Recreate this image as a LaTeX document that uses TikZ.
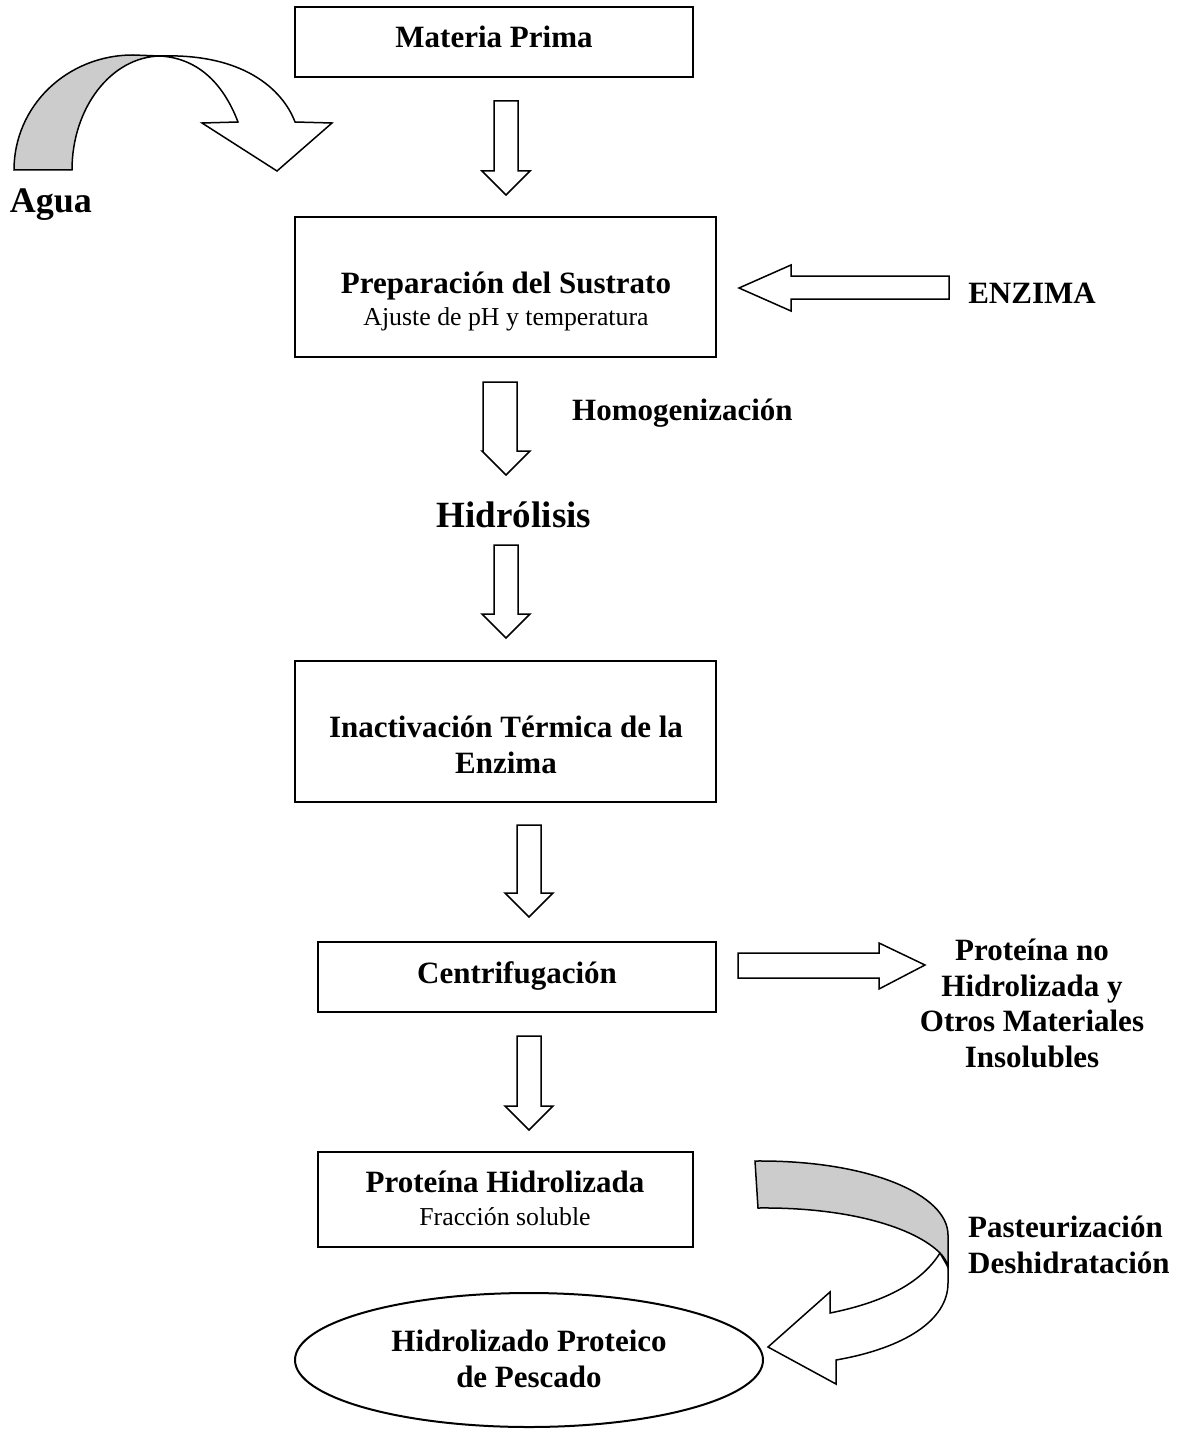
\documentclass[tikz,border=0pt]{standalone}
\usepackage{fontspec}
\setmainfont{Liberation Serif}
\usetikzlibrary{shapes.geometric}

\tikzset{
  procbox/.style={draw, line width=2pt, inner sep=0pt},
  titletxt/.style={font=\bfseries\fontsize{31}{35.5}\selectfont, align=center, inner sep=0pt},
  subtxt/.style={font=\fontsize{25.8}{30}\selectfont, inner sep=0pt},
  bigtxt/.style={font=\bfseries\fontsize{37}{42}\selectfont, inner sep=0pt},
  blockarrow/.style={draw, fill=white, line width=1.5pt, line join=miter},
  grayface/.style={draw, fill=black!20, line width=1.5pt},
}

\begin{document}
\begin{tikzpicture}[x=1pt, y=-1pt]
\useasboundingbox (0,0) rectangle (1184,1431);

% process boxes
\node[procbox, minimum width=398, minimum height=70] (mp) at (494,42) {};
\node[procbox, minimum width=421, minimum height=140] (prep) at (505.5,287) {};
\node[procbox, minimum width=421, minimum height=141] (inact) at (505.5,731.5) {};
\node[procbox, minimum width=398, minimum height=70] (centr) at (517,977) {};
\node[procbox, minimum width=375, minimum height=95] (prot) at (505.5,1199.5) {};
\node[procbox, ellipse, minimum width=468, minimum height=134] (hpp) at (529,1360) {};

% texts (multi-line nodes: base = last line)
\node[titletxt, anchor=base] (mptxt) at (494,48) {Materia Prima};
\node[titletxt, anchor=base] (preptxt) at (506,293) {Preparación del Sustrato};
\node[subtxt, anchor=base] (prepsub) at (506,325) {Ajuste de pH y temperatura};
\node[titletxt, anchor=base west] (homog) at (572,420) {Homogenización};
\node[bigtxt, anchor=base] (hidro) at (514,527) {Hidrólisis};
\node[titletxt, anchor=base] (inacttxt) at (506,773) {Inactivación Térmica de la\\Enzima};
\node[titletxt, anchor=base] (centrtxt) at (517,983) {Centrifugación};
\node[titletxt, anchor=base] (prottxt) at (505,1192) {Proteína Hidrolizada};
\node[subtxt, anchor=base] (protsub) at (505,1225) {Fracción soluble};
\node[titletxt, anchor=base] (hpptxt) at (529,1387) {Hidrolizado Proteico\\de Pescado};
\node[titletxt, anchor=base] (enz) at (1032,303) {ENZIMA};
\node[bigtxt, font=\bfseries\fontsize{36}{40}\selectfont, anchor=base] (agua) at (51,213) {Agua};
\node[titletxt, anchor=base] (resid) at (1032,1067) {Proteína no\\Hidrolizada y\\Otros Materiales\\Insolubles};
\node[titletxt, align=left, anchor=base west] (past) at (968,1273) {Pasteurización\\Deshidratación};

% down arrows
\foreach \cx/\ytop/\ytip in {506/101/195, 506/545/638, 529/825/917, 529/1036/1130}
  \draw[blockarrow] ({\cx-12},\ytop) -- ({\cx+12},\ytop) -- ({\cx+12},{\ytip-24}) -- ({\cx+24},{\ytip-24})
    -- (\cx,\ytip) -- ({\cx-24},{\ytip-24}) -- ({\cx-12},{\ytip-24}) -- cycle;
\draw[blockarrow] (483,382) -- (517,382) -- (517,451) -- (530,451) -- (506,475) -- (482,451) -- (483,451) -- cycle;

% side arrows
\draw[blockarrow] (949,276) -- (949,299) -- (791,299) -- (791,311) -- (739,288) -- (791,265) -- (791,276) -- cycle;
\draw[blockarrow] (738,953) -- (879,953) -- (879,943) -- (925,965) -- (879,989) -- (879,978) -- (738,978) -- cycle;

% curved arrow, agua
\draw[grayface] (14,170) .. controls (14,106) and (67,55) .. (133,55) -- (160,56)
  .. controls (111,57) and (72,108) .. (72,170) -- cycle;
\draw[blockarrow] (160,56) .. controls (250,53) and (285,95) .. (295,122) -- (332,123) -- (277,171)
  -- (202,123) -- (238,122) .. controls (222,80) and (195,58) .. (160,56) -- cycle;

% curved arrow, pasteurizacion
\draw[blockarrow] (940,1253) .. controls (920,1285) and (880,1303) .. (830,1313) -- (830,1292) -- (768,1347)
  -- (836,1384) -- (836,1360) .. controls (905,1348) and (948,1320) .. (948,1283) -- (948,1267) -- cycle;
\draw[grayface] (755,1161) .. controls (870,1160) and (948,1195) .. (948,1235) -- (948,1267)
  .. controls (947,1262) and (944,1257) .. (940,1253) .. controls (915,1228) and (850,1207) .. (758,1208) -- cycle;
\end{tikzpicture}
\end{document}
